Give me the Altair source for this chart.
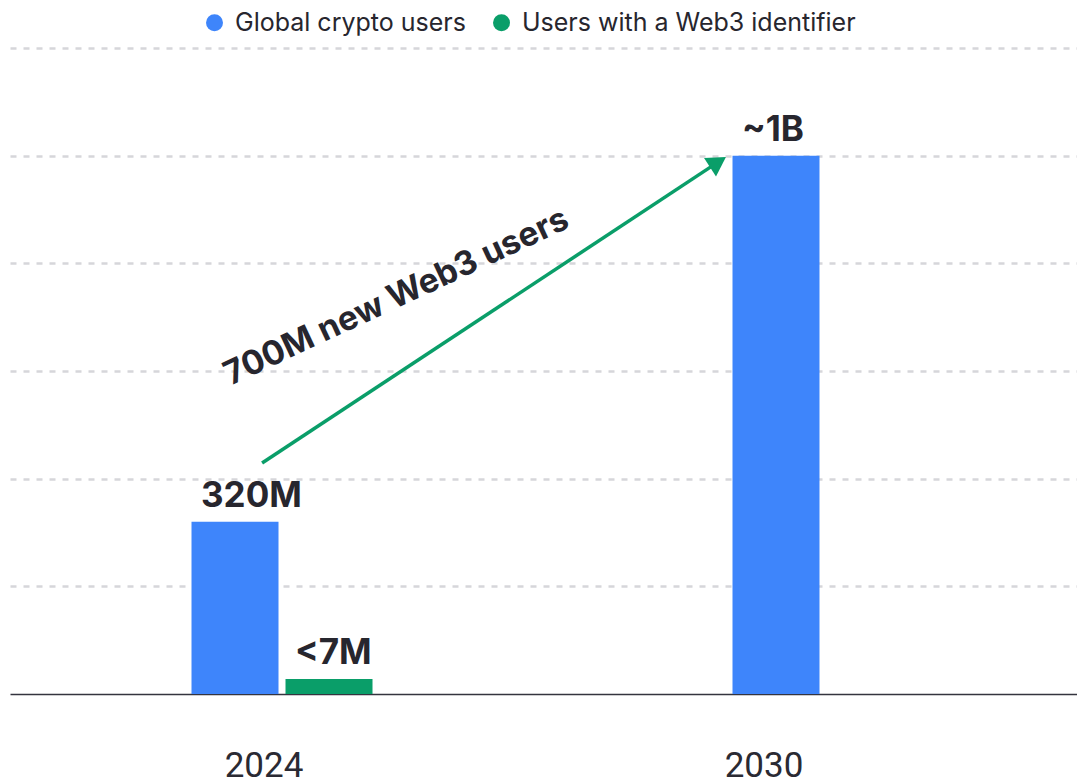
import altair as alt
import pandas as pd

# ---- data ----
years = ["2024", "2024", "2030"]
series = ["Global crypto users", "Users with a Web3 identifier", "Global crypto users"]
values = [320, 28, 1000]          # millions (bar heights as drawn)
labels = ["320M", "<7M", "~1B"]

series_order = ["Global crypto users", "Users with a Web3 identifier"]
series_colors = ["#3E85FB", "#0A9E69"]
year_order = ["2024", "2030"]

# annotation arrow (from ~320M level at 2024 to ~1B at 2030)
arrow_from_year = ["2024"]
arrow_to_year = ["2030"]
arrow_from_val = [429]
arrow_to_val = [988]
annotation_text = ["700M new Web3 users"]
annotation_val = [737]

TEXT = "#27262e"
GREEN = "#0A9E69"

df = pd.DataFrame({"year": years, "series": series, "value": values, "label": labels})
arrow_df = pd.DataFrame({"x0": arrow_from_year, "x1": arrow_to_year,
                         "y0": arrow_from_val, "y1": arrow_to_val})
head_df = pd.DataFrame({"x1": arrow_to_year, "y1": arrow_to_val})
anno_df = pd.DataFrame({"x0": arrow_from_year, "y": annotation_val, "t": annotation_text})

yscale = alt.Scale(domain=[0, 1200], nice=False)
xscale = alt.Scale(domain=year_order, paddingInner=0.66543, paddingOuter=0.31887, align=0.5261)

x_enc = alt.X(
    "year:N", scale=xscale, sort=year_order,
    axis=alt.Axis(
        title=None, ticks=False, labelAngle=0, labelFont="Roboto", labelFontSize=35,
        labelColor="#2a2a33", labelPadding=54, domainColor="#34343f", domainWidth=1.5,
        grid=False,
        labelOffset={"condition": {"test": "datum.value === '2030'", "value": -59}, "value": -18},
    ),
)
y_enc = alt.Y(
    "value:Q", scale=yscale,
    axis=alt.Axis(title=None, labels=False, ticks=False, domain=False, grid=True,
                  gridDash=[6, 7], gridColor="#d6d6da", gridWidth=2.5,
                  values=[200, 400, 600, 800, 1000, 1200]),
)

bars = alt.Chart(df).mark_bar().encode(
    x=x_enc,
    xOffset=alt.XOffset("series:N", sort=series_order,
                        scale=alt.Scale(domain=series_order, paddingInner=0.0745, paddingOuter=0)),
    y=y_enc,
    color=alt.Color(
        "series:N", scale=alt.Scale(domain=series_order, range=series_colors),
        legend=alt.Legend(orient="none", legendX=192, legendY=-38, direction="horizontal",
                          title=None, symbolType="circle", symbolSize=289,
                          labelFont="Inter", labelFontSize=25, labelColor=TEXT,
                          labelLimit=600, columnPadding=23, labelOffset=8,
                          symbolStrokeWidth=0, padding=0),
    ),
)

value_labels = alt.Chart(df).mark_text(
    font="Inter", fontSize=35, fontWeight="bold", color=TEXT, baseline="alphabetic",
    align="left", dx=-34, dy=-15
).encode(
    x=alt.X("year:N", sort=year_order),
    xOffset=alt.XOffset("series:N", sort=series_order),
    y=alt.Y("value:Q"),
    text="label:N",
)

arrow = alt.Chart(arrow_df).mark_rule(color=GREEN, strokeWidth=3.5, x2Offset=-14.5).encode(
    x=alt.X("x0:N", bandPosition=0.39),
    x2=alt.X2("x1", bandPosition=0),
    y=alt.Y("y0:Q"),
    y2=alt.Y2("y1"),
)

head = alt.Chart(head_df).mark_point(
    shape="triangle-up", filled=True, size=480, angle=57, color=GREEN, opacity=1,
    xOffset=-14.5,
).encode(
    x=alt.X("x1:N", bandPosition=0),
    y=alt.Y("y1:Q"),
)

anno = alt.Chart(anno_df).mark_text(
    font="Inter", fontSize=33.5, fontWeight="bold", color=TEXT, angle=335,
    align="center", baseline="middle", xOffset=24,
).encode(
    x=alt.X("x0:N", bandPosition=1),
    y=alt.Y("y:Q"),
    text="t:N",
)

chart = alt.layer(bars, value_labels, arrow, head, anno).properties(
    width=1067, height=646,
    autosize=alt.AutoSizeParams(type="none"),
    padding={"left": 2, "top": 40, "right": 0, "bottom": 90},
    background="white",
).configure_view(stroke=None)

chart.save("out.html", embed_options={"renderer": "svg", "actions": False})
